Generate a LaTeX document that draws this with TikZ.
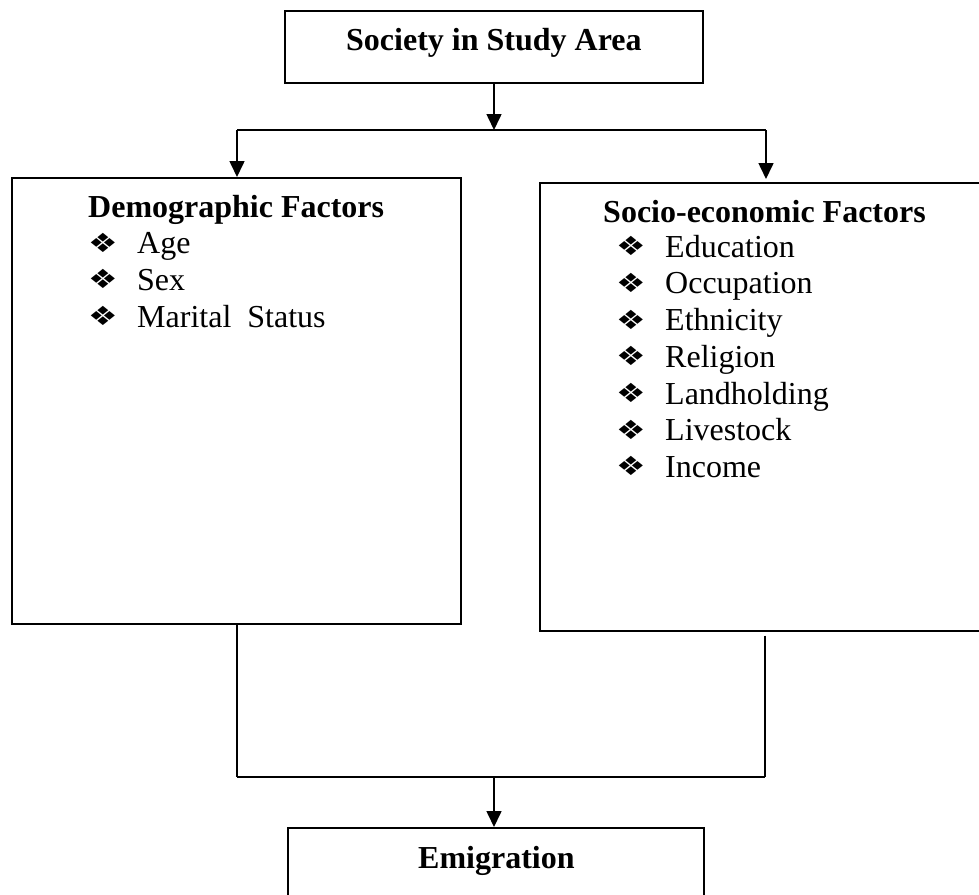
\documentclass[tikz,border=0pt]{standalone}
\usepackage{fontspec}
\usepackage{graphicx}
\setmainfont{Liberation Serif}
\newfontfamily\symfont{DejaVu Sans}
\usetikzlibrary{arrows.meta}
\newcommand{\mybul}{\scalebox{1}[0.8]{\symfont\fontsize{33}{36}\selectfont ❖}}
\begin{document}
\begin{tikzpicture}[x=1pt,y=-1pt,
  box/.style={draw, line width=1.7pt, rectangle, inner sep=0pt},
  conn/.style={line width=1.6pt},
  arr/.style={conn, -{Triangle[length=16pt,width=15pt]}},
  ttl/.style={font=\fontsize{32}{36}\selectfont\bfseries, anchor=base west, inner sep=0pt},
  itm/.style={font=\fontsize{32}{36}\selectfont, anchor=base west, inner sep=0pt},
  bul/.style={anchor=center, inner sep=0pt}]
\useasboundingbox (0,0) rectangle (979,894);
\fill[white] (0,0) rectangle (979,894);
% boxes
\node[box, minimum width=418pt, minimum height=72pt, anchor=north west] (top) at (284,10) {};
\node[ttl] (toptxt) at (346,50) {Society in Study Area};
\node[box, minimum width=449pt, minimum height=446pt, anchor=north west] (demo) at (11,177) {};
\node[box, minimum width=460pt, minimum height=448pt, anchor=north west] (socio) at (539,182) {};
\node[box, minimum width=416pt, minimum height=100pt, anchor=north west] (emig) at (287,827) {};
\node[ttl] (emigtxt) at (418,868) {Emigration};
% left text
\node[ttl] (dt) at (88,217) {Demographic Factors};
\foreach \t [count=\i] in {Age,Sex,Marital\ \ Status}{
  \node[bul] (db\i) at (103,217+36.7*\i-11) {\mybul};
  \node[itm] (di\i) at (137,217+36.7*\i) {\t};
}
% right text
\node[ttl] (st) at (603,222) {Socio-economic Factors};
\foreach \t [count=\i] in {Education,Occupation,Ethnicity,Religion,Landholding,Livestock,Income}{
  \node[bul] (sb\i) at (631,220.5+36.7*\i-11) {\mybul};
  \node[itm] (si\i) at (665,220.5+36.7*\i) {\t};
}
% connectors
\coordinate (jl) at (237,130);
\coordinate (jr) at (766,130);
\coordinate (bl) at (237,777);
\coordinate (br) at (765,777);
\coordinate (bm) at (494,777);
\draw[arr] (top.south -| bm) -- (bm |- jl);
\draw[conn] (jl) -- (jr);
\draw[arr] (jl) -- (jl |- demo.north);
\draw[arr] (jr) -- ([yshift=3pt]jr |- socio.north);
\draw[conn] (bl |- demo.south) -- (bl);
\draw[conn] ([yshift=-4pt]br |- socio.south) -- (br);
\draw[conn] (bl) -- (br);
\draw[arr] (bm) -- (bm |- emig.north);
\end{tikzpicture}
\end{document}
